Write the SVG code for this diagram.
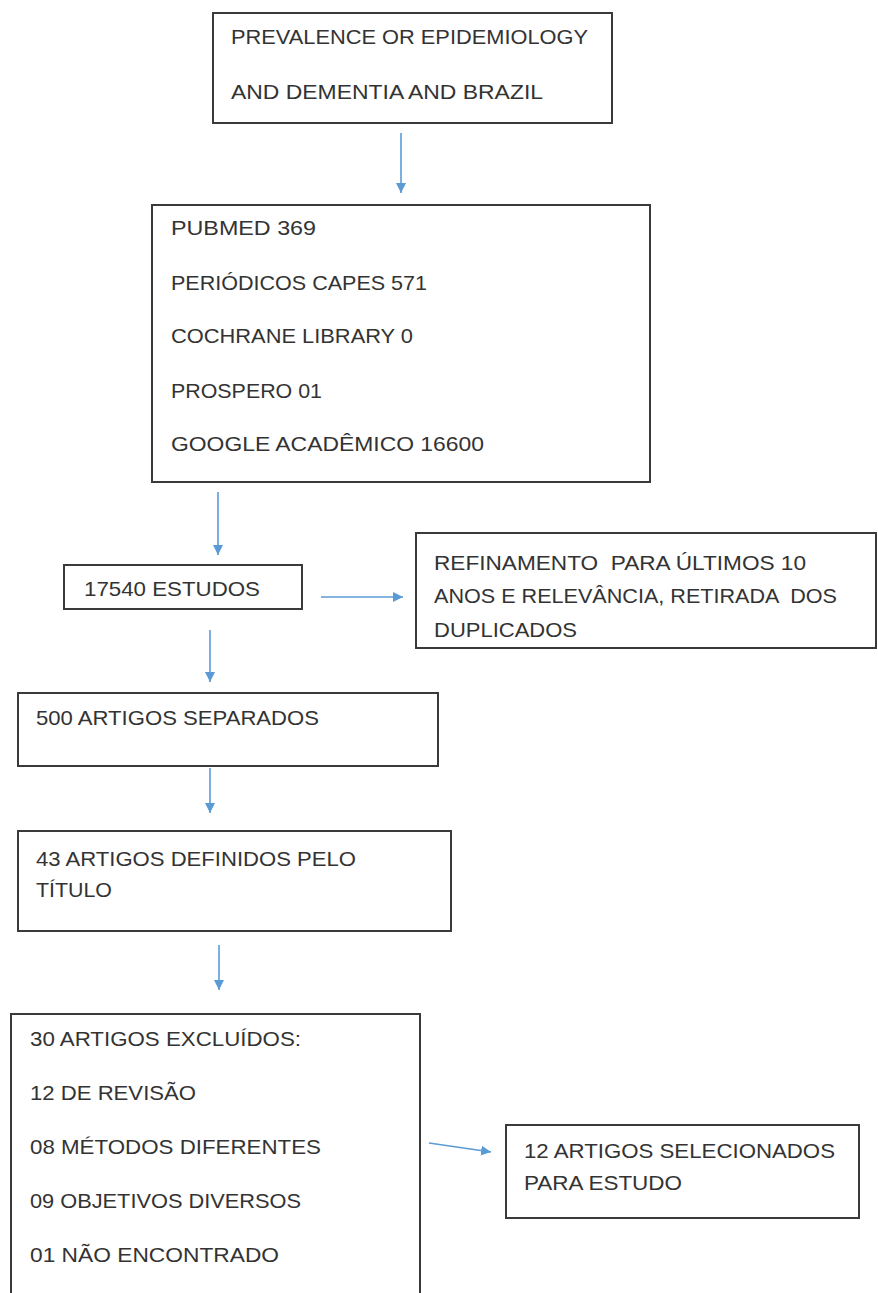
<svg xmlns="http://www.w3.org/2000/svg" width="878" height="1293" viewBox="0 0 878 1293">
<style>
.box{fill:#fff;stroke:#3a3a3a;stroke-width:2}
.t{font-family:"Liberation Sans",Arial,sans-serif;font-size:21px;fill:#333;white-space:pre}
.c{stroke:#5b9bd5;stroke-width:1.6;fill:none;marker-end:url(#ah)}
</style>
<defs>
<marker id="ah" markerUnits="userSpaceOnUse" markerWidth="10" markerHeight="10" viewBox="0 0 10 10" refX="10" refY="5" orient="auto">
<path d="M0,0 L10,5 L0,10 z" fill="#5b9bd5"/>
</marker>
</defs>
<rect width="878" height="1293" fill="#fff"/>
<g id="connectors">
<line class="c" x1="401" y1="133" x2="401" y2="193"/>
<line class="c" x1="218" y1="492" x2="218" y2="555"/>
<line class="c" x1="321" y1="597" x2="403" y2="597"/>
<line class="c" x1="210" y1="630" x2="210" y2="682"/>
<line class="c" x1="210" y1="768" x2="210" y2="813"/>
<line class="c" x1="219" y1="945" x2="219" y2="990"/>
<line class="c" x1="429" y1="1143" x2="491" y2="1152"/>
</g>
<g id="n-query">
<rect class="box" x="213" y="13" width="399" height="110"/>
<text class="t" x="231" y="44" textLength="357" lengthAdjust="spacingAndGlyphs">PREVALENCE OR EPIDEMIOLOGY</text>
<text class="t" x="231" y="99" textLength="312" lengthAdjust="spacingAndGlyphs">AND DEMENTIA AND BRAZIL</text>
</g>
<g id="n-bases">
<rect class="box" x="152" y="205" width="498" height="277"/>
<text class="t" x="171" y="235" textLength="145" lengthAdjust="spacingAndGlyphs">PUBMED 369</text>
<text class="t" x="171" y="290" textLength="256" lengthAdjust="spacingAndGlyphs">PERIÓDICOS CAPES 571</text>
<text class="t" x="171" y="343" textLength="242" lengthAdjust="spacingAndGlyphs">COCHRANE LIBRARY 0</text>
<text class="t" x="171" y="398" textLength="151" lengthAdjust="spacingAndGlyphs">PROSPERO 01</text>
<text class="t" x="171" y="451" textLength="313" lengthAdjust="spacingAndGlyphs">GOOGLE ACADÊMICO 16600</text>
</g>
<g id="n-estudos">
<rect class="box" x="64" y="565" width="238" height="44"/>
<text class="t" x="84" y="596" textLength="176" lengthAdjust="spacingAndGlyphs">17540 ESTUDOS</text>
</g>
<g id="n-refinamento">
<rect class="box" x="416" y="533" width="460" height="115"/>
<text class="t" x="434" y="570" textLength="372" lengthAdjust="spacingAndGlyphs" xml:space="preserve">REFINAMENTO  PARA ÚLTIMOS 10</text>
<text class="t" x="434" y="603" textLength="403" lengthAdjust="spacingAndGlyphs" xml:space="preserve">ANOS E RELEVÂNCIA, RETIRADA  DOS</text>
<text class="t" x="434" y="637" textLength="143" lengthAdjust="spacingAndGlyphs">DUPLICADOS</text>
</g>
<g id="n-500">
<rect class="box" x="18" y="693" width="420" height="73"/>
<text class="t" x="36" y="725" textLength="283" lengthAdjust="spacingAndGlyphs">500 ARTIGOS SEPARADOS</text>
</g>
<g id="n-43">
<rect class="box" x="18" y="831" width="433" height="100"/>
<text class="t" x="36" y="866" textLength="320" lengthAdjust="spacingAndGlyphs">43 ARTIGOS DEFINIDOS PELO</text>
<text class="t" x="36" y="897" textLength="76" lengthAdjust="spacingAndGlyphs">TÍTULO</text>
</g>
<g id="n-excluidos">
<rect class="box" x="11" y="1014" width="409" height="300"/>
<text class="t" x="30" y="1046" textLength="271" lengthAdjust="spacingAndGlyphs">30 ARTIGOS EXCLUÍDOS:</text>
<text class="t" x="30" y="1100" textLength="166" lengthAdjust="spacingAndGlyphs">12 DE REVISÃO</text>
<text class="t" x="30" y="1154" textLength="291" lengthAdjust="spacingAndGlyphs">08 MÉTODOS DIFERENTES</text>
<text class="t" x="30" y="1208" textLength="271" lengthAdjust="spacingAndGlyphs">09 OBJETIVOS DIVERSOS</text>
<text class="t" x="30" y="1262" textLength="249" lengthAdjust="spacingAndGlyphs">01 NÃO ENCONTRADO</text>
</g>
<g id="n-selecionados">
<rect class="box" x="506" y="1125" width="353" height="93"/>
<text class="t" x="524" y="1158" textLength="311" lengthAdjust="spacingAndGlyphs">12 ARTIGOS SELECIONADOS</text>
<text class="t" x="524" y="1190" textLength="158" lengthAdjust="spacingAndGlyphs">PARA ESTUDO</text>
</g>
</svg>
